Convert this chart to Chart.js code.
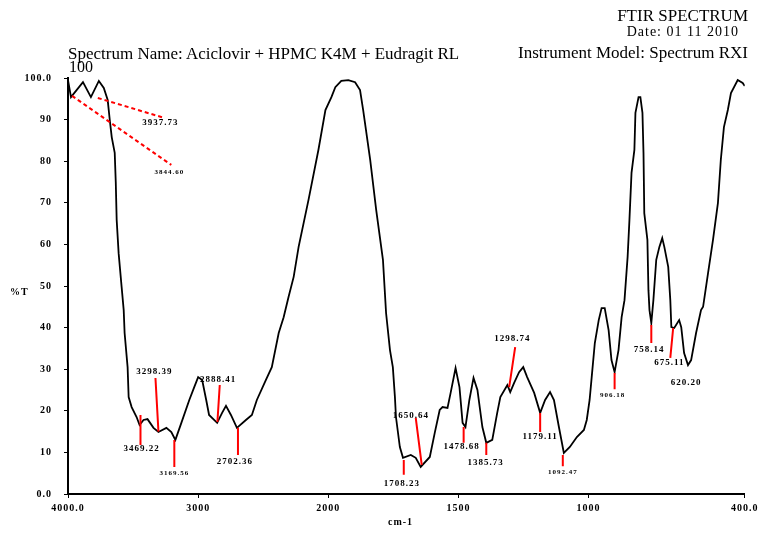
<!DOCTYPE html>
<html>
<head>
<meta charset="utf-8">
<script src="https://cdn.jsdelivr.net/npm/chart.js@4.4.1/dist/chart.umd.min.js"></script>
<style>
  html, body { margin: 0; padding: 0; background: #fff; }
  #wrap { position: relative; width: 760px; height: 533px; overflow: hidden; }
  #ftir { position: absolute; left: 0; top: 0; }
  .t { position: absolute; font-family: "Liberation Serif", serif; color: #000; white-space: nowrap; line-height: 1; }
</style>
</head>
<body>
<div id="wrap">
  <canvas id="ftir" width="760" height="533"></canvas>
  <div class="t" style="right:12px;top:7px;font-size:17px">FTIR SPECTRUM</div>
  <div class="t" style="right:21px;top:25px;font-size:14px;letter-spacing:1px">Date: 01 11 2010</div>
  <div class="t" style="right:12px;top:44px;font-size:17px">Instrument Model: Spectrum RXI</div>
  <div class="t" style="left:68px;top:45px;font-size:17px">Spectrum Name: Aciclovir + HPMC K4M + Eudragit RL</div>
  <div class="t" style="left:69px;top:59px;font-size:16px">100</div>
  <div class="t" style="left:10px;top:287px;font-size:10px;font-weight:bold;letter-spacing:1px">%T</div>
  <div class="t" style="left:388px;top:517px;font-size:10px;font-weight:bold;letter-spacing:1px">cm-1</div>
</div>
<script>
// Spectrum (wavenumber cm-1, %T)
const wavenumbers = [4000, 3977, 3885, 3824, 3763, 3725, 3695, 3679, 3664, 3641, 3633, 3626, 3611, 3588, 3572, 3565, 3542, 3534, 3511, 3473, 3450, 3420, 3389, 3343, 3305, 3244, 3206, 3175, 3129, 3068, 3030, 3000, 2969, 2938, 2916, 2854, 2816, 2786, 2748, 2702, 2633, 2587, 2549, 2480, 2434, 2381, 2343, 2305, 2266, 2228, 2152, 2076, 2022, 1988, 1973, 1950, 1923, 1897, 1878, 1866, 1839, 1816, 1790, 1778, 1763, 1752, 1744, 1740, 1725, 1713, 1683, 1664, 1645, 1610, 1591, 1572, 1561, 1542, 1530, 1511, 1496, 1484, 1473, 1458, 1442, 1427, 1408, 1393, 1370, 1351, 1339, 1312, 1301, 1286, 1267, 1251, 1236, 1209, 1186, 1167, 1148, 1133, 1114, 1095, 1072, 1045, 1018, 1007, 996, 988, 976, 961, 950, 938, 923, 912, 900, 885, 873, 862, 850, 843, 835, 824, 820, 808, 801, 793, 789, 786, 774, 770, 766, 759, 751, 740, 728, 717, 709, 694, 686, 682, 671, 652, 644, 633, 618, 606, 587, 568, 560, 541, 522, 503, 492, 480, 465, 453, 427, 408, 400];
const transmittance = [99.5, 95.4, 99.0, 95.4, 99.3, 97.6, 94.7, 89.9, 85.8, 82.0, 75.0, 65.9, 57.9, 49.8, 44.2, 38.7, 30.5, 23.3, 20.9, 18.5, 16.6, 17.8, 18.0, 15.9, 14.9, 15.9, 14.9, 13.0, 17.1, 22.6, 25.7, 28.1, 27.4, 22.6, 19.0, 17.1, 19.5, 21.2, 19.0, 15.9, 17.8, 19.0, 22.6, 27.4, 30.5, 38.7, 42.5, 47.4, 52.2, 59.4, 70.7, 82.7, 92.3, 95.4, 97.8, 99.3, 99.5, 99.0, 97.1, 92.3, 80.3, 68.3, 56.3, 43.5, 34.6, 30.5, 23.3, 18.5, 11.3, 8.7, 9.4, 8.7, 6.5, 8.9, 14.7, 20.2, 20.9, 20.7, 24.3, 30.3, 25.7, 17.1, 16.1, 22.6, 27.9, 25.0, 16.1, 12.3, 13.0, 19.5, 23.3, 26.2, 24.5, 26.7, 29.3, 30.5, 28.1, 24.3, 19.5, 22.6, 24.5, 22.6, 16.1, 9.9, 11.3, 13.7, 15.4, 17.8, 22.6, 28.1, 36.3, 41.8, 44.7, 44.7, 39.4, 32.2, 29.3, 34.6, 42.5, 46.6, 57.0, 65.9, 77.2, 82.7, 91.6, 95.4, 95.4, 91.6, 82.0, 67.5, 61.1, 49.0, 44.2, 41.1, 46.6, 56.3, 59.4, 61.5, 59.4, 54.6, 46.6, 40.1, 39.9, 41.8, 40.1, 33.9, 31.0, 32.2, 38.7, 44.2, 45.0, 53.1, 61.1, 70.0, 80.3, 88.2, 92.3, 96.4, 99.5, 98.8, 98.1];

// Axis ticks
const xTickWavenumbers = [4000, 3000, 2000, 1500, 1000, 400];
const yTickValues = [0, 10, 20, 30, 40, 50, 60, 70, 80, 90, 100];

// Peak picks: label text, marker line [wn1, %T1, wn2, %T2]
const peakLabels = ['3937.73', '3844.60', '3469.22', '3298.39', '3169.56', '2888.41', '2702.36', '1708.23', '1650.64', '1478.68', '1385.73', '1298.74', '1179.11', '1092.47', '906.18', '758.14', '675.11', '620.20'];
const peakLines = [
  [3771, 95.2, 3259, 90.4], [3969, 95.7, 3206, 79.1], [3443, 19.0, 3443, 11.8], [3328, 27.9, 3305, 15.0],
  [3183, 13.0, 3183, 6.5], [2834, 26.2, 2852, 17.3], [2694, 15.9, 2694, 9.4], [1710, 8.2, 1710, 4.6],
  [1664, 18.3, 1641, 7.0], [1480, 16.1, 1480, 12.3], [1393, 12.3, 1393, 9.4], [1282, 35.3, 1305, 25.7],
  [1186, 19.5, 1186, 14.9], [1099, 9.4, 1099, 6.7], [900, 29.1, 900, 25.2], [759, 40.6, 759, 36.3],
  [675, 39.9, 686, 32.7], null
];
// where each label sits [wn, %T, font size]
const labelAnchors = [
  [3290, 89.2, 9], [3221, 77.4, 7], [3435, 10.8, 9], [3336, 29.3, 9], [3183, 5.0, 7], [2847, 27.4, 9],
  [2717, 7.7, 9], [1717, 2.6, 9], [1683, 18.8, 9], [1488, 11.3, 9], [1396, 7.5, 9], [1293, 37.3, 9],
  [1186, 13.7, 9], [1099, 5.3, 7], [908, 23.8, 7], [767, 34.6, 9], [690, 31.5, 9], [625, 26.7, 9]
];

// the instrument halves the scale above 2000 cm-1
function toAxis(wn) { return wn <= 2000 ? wn : 2000 + (wn - 2000) / 2; }
function fromAxis(p) { return p <= 2000 ? p : 2000 + (p - 2000) * 2; }

const spectrum = wavenumbers.map((w, i) => ({ x: toAxis(w), y: transmittance[i] }));

function segments(dashed) {
  const pts = [];
  peakLines.forEach((l, i) => {
    if (!l || (i < 2) !== dashed) return;
    pts.push({ x: toAxis(l[0]), y: l[1] }, { x: toAxis(l[2]), y: l[3] }, { x: toAxis(l[2]), y: null });
  });
  return pts;
}

// printer-style spaced digits
const spacing = {
  id: 'spacing',
  beforeDraw(chart) { chart.ctx.letterSpacing = '1px'; }
};

const peakText = {
  id: 'peakText',
  afterDatasetsDraw(chart) {
    const { ctx, scales: { x, y } } = chart;
    ctx.save();
    ctx.fillStyle = '#000';
    ctx.textAlign = 'center';
    ctx.textBaseline = 'middle';
    peakLabels.forEach((txt, i) => {
      const [w, t, size] = labelAnchors[i];
      ctx.font = 'bold ' + size + 'px "Liberation Serif"';
      ctx.fillText(txt, x.getPixelForValue(toAxis(w)), y.getPixelForValue(t));
    });
    ctx.restore();
  }
};

const ctx = document.getElementById('ftir').getContext('2d');
new Chart(ctx, {
  type: 'line',
  data: {
    datasets: [
      { data: segments(false), borderColor: '#ff0000', borderWidth: 2, pointRadius: 0, spanGaps: false, tension: 0 },
      { data: segments(true), borderColor: '#ff0000', borderWidth: 2, borderDash: [4, 3], pointRadius: 0, spanGaps: false, tension: 0 },
      { data: spectrum, borderColor: '#000', borderWidth: 1.8, pointRadius: 0, tension: 0 }
    ]
  },
  options: {
    responsive: false,
    animation: false,
    layout: { padding: { top: 78, right: 11, left: 0, bottom: 0 } },
    plugins: { legend: { display: false }, tooltip: { enabled: false } },
    scales: {
      x: {
        type: 'linear',
        reverse: true,
        min: 400,
        max: 3000,
        afterBuildTicks: s => { s.ticks = xTickWavenumbers.map(w => ({ value: toAxis(w) })); },
        afterFit: s => { s.height = 39; },
        ticks: {
          color: '#000',
          maxRotation: 0,
          autoSkip: false,
          padding: 4,
          font: { family: 'Liberation Serif', size: 10, weight: 'bold' },
          callback: v => { const w = fromAxis(v); return (w === 4000 || w === 400) ? w.toFixed(1) : String(w); }
        },
        grid: { display: true, drawOnChartArea: false, drawTicks: true, tickLength: 4, color: '#000' },
        border: { display: true, color: '#000', width: 2 }
      },
      y: {
        min: 0,
        max: 100,
        afterBuildTicks: s => { s.ticks = yTickValues.map(v => ({ value: v })); },
        afterFit: s => { s.width = 68; },
        ticks: {
          color: '#000',
          padding: 12,
          font: { family: 'Liberation Serif', size: 10, weight: 'bold' },
          callback: v => (v === 0 || v === 100) ? v.toFixed(1) : String(v)
        },
        grid: { display: true, drawOnChartArea: false, drawTicks: true, tickLength: 4, color: '#000' },
        border: { display: true, color: '#000', width: 2 }
      }
    }
  },
  plugins: [spacing, peakText]
});
</script>
</body>
</html>
